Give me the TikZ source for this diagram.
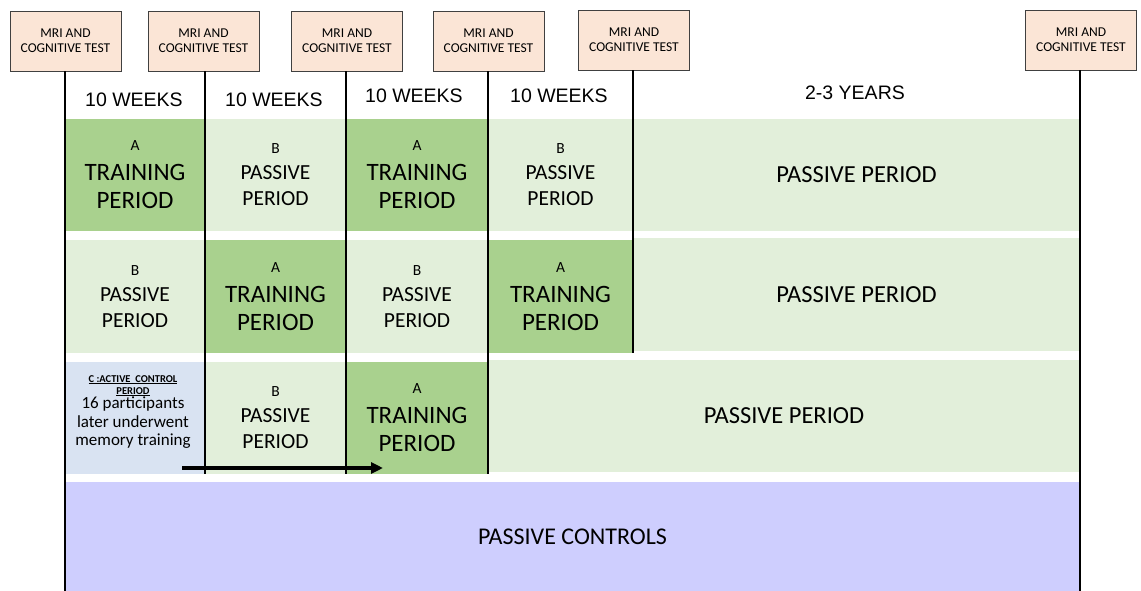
\documentclass[tikz,border=0pt]{standalone}
\usepackage{fontspec}
\setmainfont{Carlito}
\newfontfamily\arialf{Liberation Sans}
\usetikzlibrary{arrows.meta}
\definecolor{dgreen}{HTML}{A9D18E}
\definecolor{lgreen}{HTML}{E2EFDA}
\definecolor{lblue}{HTML}{D9E3F2}
\definecolor{lpurple}{HTML}{CECEFE}
\definecolor{peach}{HTML}{FBE5D6}
\begin{document}
\begin{tikzpicture}[x=1pt,y=-1pt,
  mri/.style={draw=black!75, line width=0.9pt, fill=peach, minimum width=111pt, minimum height=60pt, inner sep=0pt, align=center, font=\fontsize{13.5}{15}\selectfont},
  wk/.style={font=\arialf\fontsize{19.5}{22}\selectfont, inner sep=0pt},
  cellbox/.style={inner sep=0pt, align=center},
  dark/.style={cellbox, fill=dgreen, font=\fontsize{25}{28}\selectfont},
  light/.style={cellbox, fill=lgreen, font=\fontsize{21.5}{26}\selectfont},
  wide/.style={cellbox, fill=lgreen, font=\fontsize{24.5}{28}\selectfont},
  ctitle/.style={inner sep=0pt, anchor=base, font=\bfseries\fontsize{10.5}{11}\selectfont},
  cbody/.style={inner sep=0pt, anchor=base, font=\fontsize{17}{19}\selectfont},
  vline/.style={line width=2pt, black},
  arr/.style={line width=3.2pt, -{Triangle[length=12pt,width=11pt]}},
]
\newcommand\lettA{{\fontsize{15.5}{15.5}\selectfont A}}
\newcommand\lettB{{\fontsize{15.5}{15.5}\selectfont B}}
\useasboundingbox (0,0) rectangle (1141,591);
% ---------- row 1
\node[dark, minimum width=140pt, minimum height=112pt] (r1c1) at (135,175) {\lettA\\[2pt]TRAINING\\PERIOD};
\node[light, minimum width=141pt, minimum height=112pt] (r1c2) at (275.5,175) {\lettB\\PASSIVE\\PERIOD};
\node[dark, minimum width=142pt, minimum height=112pt] (r1c3) at (417,175) {\lettA\\[2pt]TRAINING\\PERIOD};
\node[light, minimum width=145pt, minimum height=112pt] (r1c4) at (560.5,175) {\lettB\\PASSIVE\\PERIOD};
\node[wide, minimum width=447pt, minimum height=112pt] (r1c5) at (856.5,175) {PASSIVE PERIOD};
% ---------- row 2
\node[light, minimum width=140pt, minimum height=113pt] (r2c1) at (135,296.5) {\lettB\\PASSIVE\\PERIOD};
\node[dark, minimum width=141pt, minimum height=113pt] (r2c2) at (275.5,296.5) {\lettA\\[2pt]TRAINING\\PERIOD};
\node[light, minimum width=142pt, minimum height=113pt] (r2c3) at (417,296.5) {\lettB\\PASSIVE\\PERIOD};
\node[dark, minimum width=145pt, minimum height=113pt] (r2c4) at (560.5,296.5) {\lettA\\[2pt]TRAINING\\PERIOD};
\node[wide, minimum width=447pt, minimum height=113pt] (r2c5) at (856.5,294.5) {PASSIVE PERIOD};
% ---------- row 3
\node[cellbox, fill=lblue, minimum width=140pt, minimum height=112pt] (r3c1) at (135,418) {};
\node[light, minimum width=141pt, minimum height=112pt] (r3c2) at (275.5,418) {\lettB\\PASSIVE\\PERIOD};
\node[dark, minimum width=142pt, minimum height=112pt] (r3c3) at (417,418) {\lettA\\[2pt]TRAINING\\PERIOD};
\node[wide, minimum width=592pt, minimum height=112pt] (r3c4) at (784,416) {PASSIVE PERIOD};
\node[ctitle] (ct1) at (133,382) {\underline{C :ACTIVE\ \ CONTROL}};
\node[ctitle] (ct2) at (133,394) {\underline{PERIOD}};
\node[cbody] (cb1) at (133,408.5) {16 participants};
\node[cbody] (cb2) at (133,427) {later underwent};
\node[cbody] (cb3) at (133,445) {memory training};
% ---------- passive controls
\node[cellbox, fill=lpurple, minimum width=1015pt, minimum height=109pt, font=\fontsize{24}{28}\selectfont] (pc) at (572.5,536.5) {PASSIVE CONTROLS};
% ---------- week labels
\node[wk] (w1) at (134,100) {10 WEEKS};
\node[wk] (w2) at (274,100) {10 WEEKS};
\node[wk] (w3) at (414,96) {10 WEEKS};
\node[wk] (w4) at (559,96) {10 WEEKS};
\node[wk] (w5) at (855,93) {2-3 YEARS};
% ---------- MRI boxes
\node[mri] (m1) at (65.5,41) {MRI AND\\COGNITIVE TEST};
\node[mri] (m2) at (203.5,41) {MRI AND\\COGNITIVE TEST};
\node[mri] (m3) at (347,41) {MRI AND\\COGNITIVE TEST};
\node[mri] (m4) at (488.5,41) {MRI AND\\COGNITIVE TEST};
\node[mri] (m5) at (634,40) {MRI AND\\COGNITIVE TEST};
\node[mri] (m6) at (1081,40) {MRI AND\\COGNITIVE TEST};
% ---------- time lines
\coordinate (e1) at (65,591);
\coordinate (e2) at (205,474);
\coordinate (e3) at (346,474);
\coordinate (e4) at (488,474);
\coordinate (e5) at (633,353);
\coordinate (e6) at (1080,591);
\draw[vline] (m1.south -| e1) -- (e1);
\draw[vline] (m2.south -| e2) -- (e2);
\draw[vline] (m3.south -| e3) -- (e3);
\draw[vline] (m4.south -| e4) -- (e4);
\draw[vline] (m5.south -| e5) -- (e5);
\draw[vline] (m6.south -| e6) -- (e6);
% ---------- arrow
\coordinate (as) at (182,468);
\coordinate (ae) at (383,468);
\draw[arr] (as) -- (ae);
\end{tikzpicture}
\end{document}
